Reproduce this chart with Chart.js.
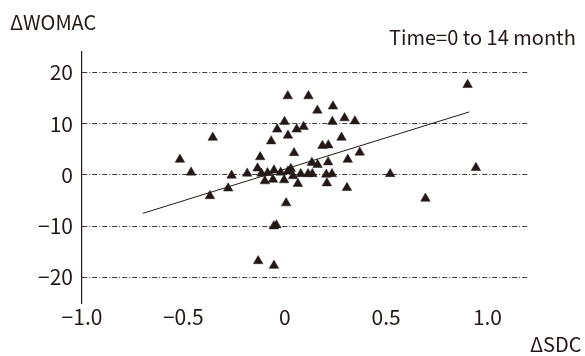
<!DOCTYPE html>
<html>
<head>
<meta charset="utf-8">
<script src="https://cdn.jsdelivr.net/npm/chart.js@4/dist/chart.umd.min.js"></script>
<style>
  body { margin: 0; background: #fff; }
  #wrap { width: 585px; height: 356px; position: relative; }
</style>
</head>
<body>
<div id="wrap"><canvas id="chart"></canvas></div>
<script>
// change in SDC (x) and change in WOMAC (y), one entry per patient
const sdc = [
  0.015, 0.117, 0.161, 0.238, 0.235, 0.295, 0.346, -0.001, -0.037, 0.059,
  0.093, 0.016, -0.067, 0.186, 0.215, 0.280, -0.355, -0.517, -0.462, -0.262,
  -0.185, -0.121, -0.134, 0.046, 0.370, 0.311, 0.134, 0.162, 0.214, -0.115,
  -0.085, -0.053, -0.020, 0.016, 0.030, 0.079, 0.115, 0.136, 0.205, 0.233,
  -0.098, -0.058, -0.003, 0.065, 0.208, 0.307, -0.369, -0.279, 0.007, -0.054,
  -0.041, -0.131, -0.053, 0.902, 0.943, 0.520, 0.694, 0.041
];
const womac = [
  15.4, 15.4, 12.6, 13.4, 10.4, 11.1, 10.5, 10.4, 8.9, 8.9,
  9.4, 7.7, 6.6, 5.7, 5.8, 7.3, 7.3, 3.0, 0.5, -0.1,
  0.3, 3.5, 1.3, 4.3, 4.4, 3.0, 2.4, 2.0, 2.5, 0.3,
  0.4, 0.9, 0.5, 0.7, 1.2, 0.2, 0.2, 0.2, 0.1, 0.2,
  -1.2, -0.9, -1.0, -1.7, -1.6, -2.5, -4.1, -2.6, -5.5, -10.0,
  -9.8, -16.8, -17.7, 17.6, 1.4, 0.2, -4.6, -0.2
];

// regression line end points
const fitX = [-0.70, 0.91];
const fitY = [-7.5, 12.3];

const xTicks = [-1.0, -0.5, 0, 0.5, 1.0];
const xTickLabels = ['−1.0', '−0.5', '0', '0.5', '1.0'];
const yTicks = [20, 10, 0, -10, -20];
const yTickLabels = ['20', '10', '0', '−10', '−20'];

const ink = '#231815';
const fontFamily = '"Noto Sans CJK JP", "Liberation Sans", sans-serif';

const points = sdc.map((x, i) => ({ x: x, y: womac[i] }));
const fitLine = fitX.map((x, i) => ({ x: x, y: fitY[i] }));

// axis titles and the time note
const textPlugin = {
  id: 'textPlugin',
  afterDraw(chart) {
    const ctx = chart.ctx;
    ctx.save();
    ctx.fillStyle = ink;
    ctx.textBaseline = 'middle';
    ctx.font = '20px ' + fontFamily;
    ctx.fillText('ΔWOMAC', 10, 22);
    ctx.fillText('Time=0 to 14 month', 389, 37);
    ctx.fillText('ΔSDC', 530, 344);
    ctx.restore();
  }
};

new Chart(document.getElementById('chart'), {
  type: 'scatter',
  data: {
    datasets: [
      {
        label: 'patients',
        data: points,
        pointStyle: 'triangle',
        pointRadius: 5.5,
        pointBackgroundColor: ink,
        pointBorderColor: ink,
        pointBorderWidth: 0.5,
        order: 1
      },
      {
        type: 'line',
        label: 'fit',
        data: fitLine,
        borderColor: ink,
        borderWidth: 1,
        pointRadius: 0,
        fill: false,
        order: 2
      }
    ]
  },
  options: {
    responsive: true,
    maintainAspectRatio: false,
    animation: false,
    layout: { padding: { top: 52, right: 57, left: 0, bottom: 0 } },
    plugins: {
      legend: { display: false },
      tooltip: { enabled: false }
    },
    scales: {
      x: {
        type: 'linear',
        min: -1.0,
        max: 1.2,
        afterBuildTicks: (scale) => { scale.ticks = xTicks.map(v => ({ value: v })); },
        afterFit: (scale) => { scale.height = 53; },
        grid: { display: false, drawTicks: false },
        border: { display: false },
        ticks: {
          autoSkip: false,
          maxRotation: 0,
          padding: 1,
          color: ink,
          font: { family: fontFamily, size: 21 },
          callback: (v, i) => xTickLabels[i]
        }
      },
      y: {
        type: 'linear',
        min: -25,
        max: 24,
        afterBuildTicks: (scale) => { scale.ticks = yTicks.map(v => ({ value: v })); },
        afterFit: (scale) => { scale.width = 82; },
        grid: {
          display: true,
          color: '#3e3a39',
          lineWidth: 1,
          drawTicks: false
        },
        border: {
          display: true,
          color: ink,
          width: 1.2,
          dash: [5, 2, 1, 2]
        },
        ticks: {
          padding: 9,
          color: ink,
          font: { family: fontFamily, size: 21 },
          callback: (v, i) => yTickLabels[i]
        }
      }
    }
  },
  plugins: [textPlugin]
});
</script>
</body>
</html>
